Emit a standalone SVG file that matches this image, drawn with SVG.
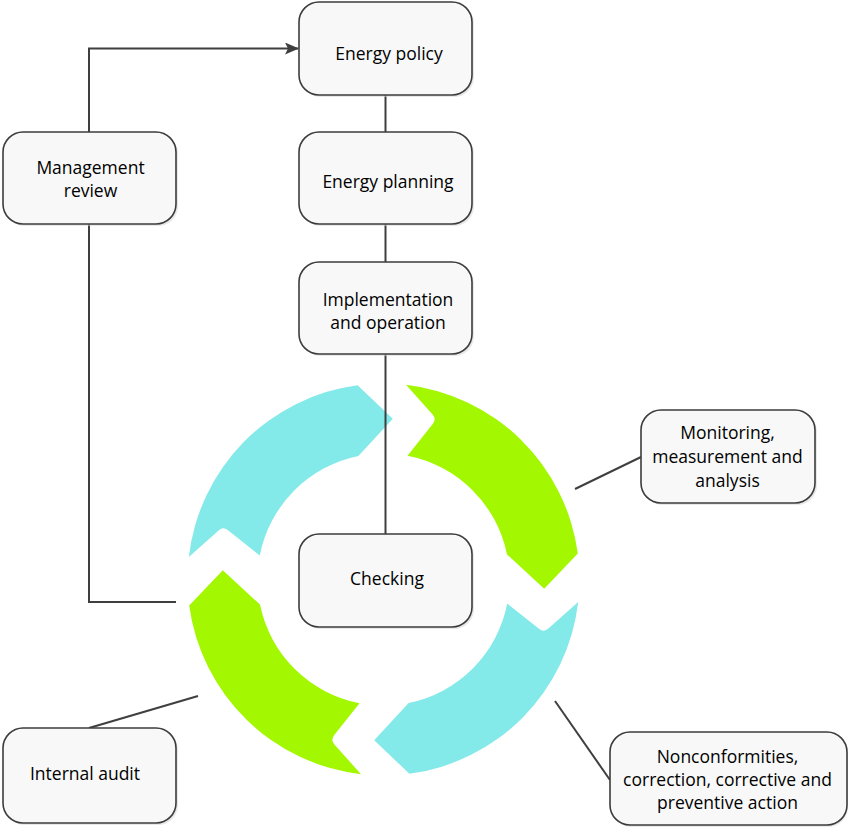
<svg xmlns="http://www.w3.org/2000/svg" width="850" height="832" viewBox="0 0 850 832">
<defs>
<style>
.box{fill:#f8f8f8;stroke:#3c3c3c;stroke-width:1.6}
.sh{fill:#d6d6d6;opacity:0.55}
.t{font-family:"Open Sans","Liberation Sans",sans-serif;font-size:17.5px;fill:#000;text-anchor:middle}
.ln{fill:none;stroke:#3f3f3f;stroke-width:2}
.blue{fill:#84E9E9}
.green{fill:#A3F700}
</style>
<marker id="ah" viewBox="0 0 14 12" refX="13" refY="6" markerWidth="14" markerHeight="12" markerUnits="userSpaceOnUse" orient="auto">
<path d="M0,0 L14,6 L0,12 L3,6 Z" fill="#3f3f3f"/>
</marker>
<path id="arc" d="M188.8,557.0 L218.6,530.4 Q223.05,526.4 227.7,530.1 L259.8,555.5 A126,126 0 0 1 358.4,456.0 L392.8,418.8 L357.6,385.2 A196,196 0 0 0 188.8,557.0 Z"/>
</defs>
<rect width="850" height="832" fill="#ffffff"/>
<g id="cycle">
<use href="#arc" class="blue"/>
<use href="#arc" class="green" transform="rotate(90 383.5 579.5)"/>
<use href="#arc" class="blue" transform="rotate(180 383.5 579.5)"/>
<use href="#arc" class="green" transform="rotate(270 383.5 579.5)"/>
</g>
<g id="connectors">
<path class="ln" d="M89,132 V48.5 H298" marker-end="url(#ah)"/>
<path class="ln" d="M385.5,95 V132"/>
<path class="ln" d="M385.5,224 V262"/>
<path class="ln" d="M385.5,354 V534"/>
<path class="ln" d="M89,224 V602 H176"/>
<path class="ln" d="M575,489 L641,457"/>
<path class="ln" d="M555,701 L610,780"/>
<path class="ln" d="M89,728 L198,696"/>
</g>
<g id="energy-policy">
<rect class="sh" x="301" y="4" width="173" height="93" rx="20"/>
<rect class="box" x="299" y="2" width="173" height="93" rx="20"/>
<text class="t" x="389" y="60">Energy policy</text>
</g>
<g id="energy-planning">
<rect class="sh" x="301" y="134" width="173" height="92" rx="20"/>
<rect class="box" x="299" y="132" width="173" height="92" rx="20"/>
<text class="t" x="388" y="188">Energy planning</text>
</g>
<g id="implementation">
<rect class="sh" x="301" y="264" width="173" height="92" rx="20"/>
<rect class="box" x="299" y="262" width="173" height="92" rx="20"/>
<text class="t" x="388" y="306">Implementation</text>
<text class="t" x="388" y="329">and operation</text>
</g>
<g id="management-review">
<rect class="sh" x="5" y="134" width="173" height="92" rx="20"/>
<rect class="box" x="3" y="132" width="173" height="92" rx="20"/>
<text class="t" x="90.5" y="174">Management</text>
<text class="t" x="90.5" y="197">review</text>
</g>
<g id="checking">
<rect class="sh" x="301" y="536" width="173" height="93" rx="20"/>
<rect class="box" x="299" y="534" width="173" height="93" rx="20"/>
<text class="t" x="387" y="585">Checking</text>
</g>
<g id="monitoring">
<rect class="sh" x="643" y="412" width="174" height="93" rx="20"/>
<rect class="box" x="641" y="410" width="174" height="93" rx="20"/>
<text class="t" x="727.5" y="439">Monitoring,</text>
<text class="t" x="727.5" y="463">measurement and</text>
<text class="t" x="727.5" y="487">analysis</text>
</g>
<g id="nonconformities">
<rect class="sh" x="612" y="734" width="236" height="93" rx="20"/>
<rect class="box" x="610" y="732" width="237" height="93" rx="20"/>
<text class="t" x="727.5" y="763">Nonconformities,</text>
<text class="t" x="727.5" y="786">correction, corrective and</text>
<text class="t" x="727.5" y="809">preventive action</text>
</g>
<g id="internal-audit">
<rect class="sh" x="5" y="730" width="173" height="95" rx="20"/>
<rect class="box" x="3" y="728" width="173" height="95" rx="20"/>
<text class="t" x="85" y="780">Internal audit</text>
</g>
</svg>
